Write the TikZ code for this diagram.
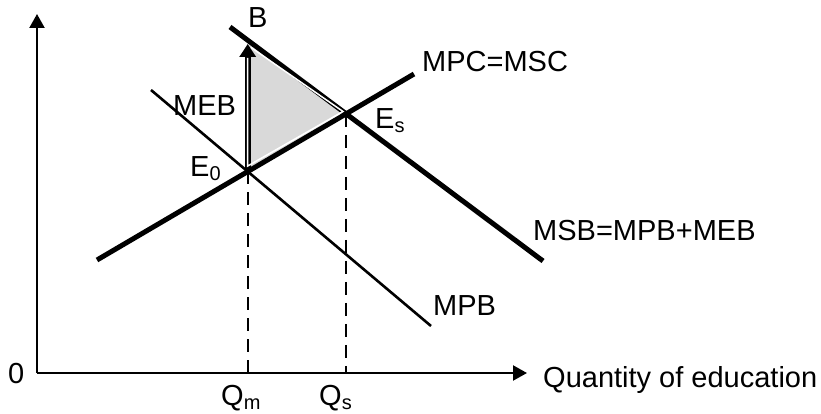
\documentclass[tikz,border=0pt]{standalone}
\usepackage{fontspec}
\setmainfont{Liberation Sans}
\usetikzlibrary{arrows.meta}
\newcommand{\mysub}[1]{\raisebox{-4pt}{\fontsize{20}{20}\selectfont #1}}
\begin{document}
\begin{tikzpicture}[x=1pt,y=-1pt,
  lbl/.style={anchor=base west,inner sep=0pt,font=\fontsize{29}{30}\selectfont},
  axis/.style={line width=2.2pt,-{Triangle[length=14pt,width=15pt]}},
  guide/.style={line width=1.8pt,dash pattern=on 13pt off 8pt},
  thin curve/.style={line width=2.6pt},
  thick curve/.style={line width=5pt}]
\useasboundingbox (0,0) rectangle (821,414);
% key points
\coordinate (O) at (37,373);
\coordinate (ytop) at (37,14);
\coordinate (xend) at (527,373);
\coordinate (E0) at (247.7,171.2);
\coordinate (Es) at (346.1,113.8);
\coordinate (B) at (247.7,44);
\coordinate (Qm) at (247.7,373);
\coordinate (Qs) at (346.1,373);
% shaded triangle
\fill[black!15] (B) -- (Es) -- (E0) -- cycle;
% axes
\draw[axis] (O) -- (ytop);
\draw[axis] (O) -- (xend);
% dashed guides
\draw[guide] (E0) -- (Qm);
\draw[guide] (Es) -- (Qs);
% curves
\coordinate (mpb1) at (151,90);
\coordinate (mpb2) at (431,326);
\coordinate (mpc1) at (97,260);
\coordinate (mpc2) at (414,74);
\coordinate (msb1) at (230,27);
\coordinate (msb2) at (543,261);
\draw[thin curve] (mpb1) -- (mpb2);
\draw[thick curve] (mpc1) -- (mpc2);
\draw[thick curve] (msb1) -- (msb2);
% MEB arrow
\draw[line width=6pt,-{Triangle[length=13pt,width=16pt]}] (E0) -- (B);
% white outline of triangle
\coordinate (w1) at (247.7,58);
\coordinate (w2) at (247.7,166);
\coordinate (w3) at (343,111.5);
\coordinate (w4) at (251,47.5);
\draw[white,line width=1.5pt] (w1) -- (w2) -- (w3) -- (w4);
% labels
\node[lbl] (lB) at (248,28) {B};
\node[lbl] (lMEB) at (173,116) {MEB};
\node[lbl] (lE0) at (190,177) {E\mysub{0}};
\node[lbl] (lEs) at (375,129) {E\mysub{s}};
\node[lbl] (lMPC) at (422,72) {MPC=MSC};
\node[lbl] (lMSB) at (533,240) {MSB=MPB+MEB};
\node[lbl] (lMPB) at (433,315) {MPB};
\node[lbl] (lQ) at (543,387) {Quantity of education};
\node[lbl] (l0) at (8,383) {0};
\node[lbl] (lQm) at (221,405) {Q\mysub{m}};
\node[lbl] (lQs) at (319,405) {Q\mysub{s}};
\end{tikzpicture}
\end{document}
